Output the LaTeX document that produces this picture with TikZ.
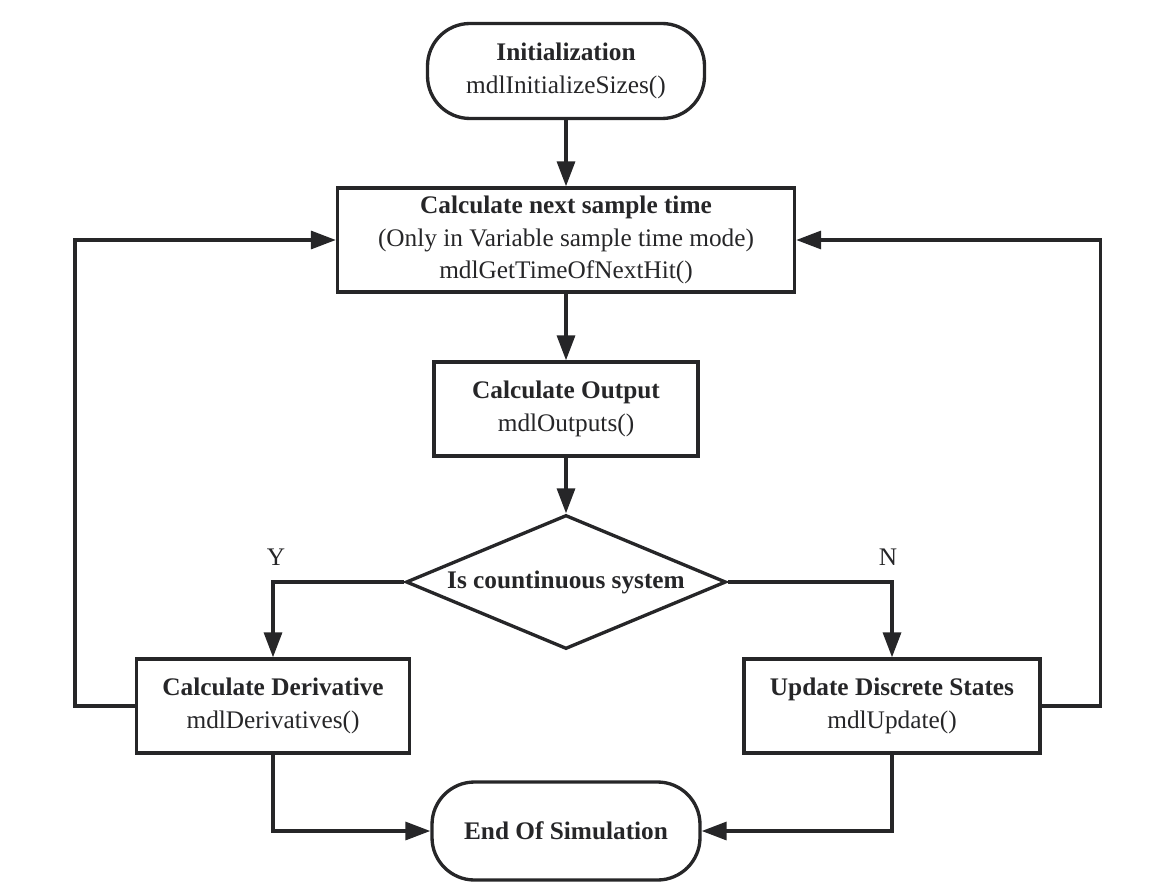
\documentclass[tikz,border=0pt]{standalone}
\usepackage{fontspec}
\setmainfont{Liberation Serif}
\usetikzlibrary{arrows.meta,positioning,shapes.geometric}
\definecolor{ink}{RGB}{38,38,40}
\tikzset{>={Triangle[length=0.5cm,width=0.36cm]}}
\tikzset{
  box/.style={draw=ink,line width=1.9pt,text=ink,align=center,font=\fontsize{14.4}{18.5}\selectfont},
  term/.style={box,rounded corners=0.85cm,minimum height=1.9cm},
  proc/.style={box,minimum height=1.88cm},
  decide/.style={box,diamond,aspect=2.4,inner sep=0pt,minimum width=6.4cm,minimum height=2.68cm},
  flow/.style={->,draw=ink,line width=1.9pt},
  lbl/.style={text=ink,font=\fontsize{14.4}{18.5}\selectfont},
}

\begin{document}
\begin{tikzpicture}[node distance=3.38cm]
\useasboundingbox (0,0) rectangle (23.48,17.8);
\node[term,minimum width=5.54cm] (init) at (11.32,16.38) {\textbf{Initialization}\\mdlInitializeSizes()};
\node[proc,minimum width=9.14cm,minimum height=2.08cm,below of=init] (next) {\textbf{Calculate next sample time}\\(Only in Variable sample time mode)\\mdlGetTimeOfNextHit()};
\node[proc,minimum width=5.28cm,below of=next] (out) {\textbf{Calculate Output}\\mdlOutputs()};
\node[decide,below of=out,yshift=-0.08cm] (dia) {\textbf{Is countinuous system}};
\node[proc,minimum width=5.46cm] (deriv) at (5.46,3.68) {\textbf{Calculate Derivative}\\mdlDerivatives()};
\node[proc,minimum width=5.92cm] (upd) at (17.84,3.68) {\textbf{Update Discrete States}\\mdlUpdate()};
\node[term,minimum width=5.36cm,minimum height=1.96cm] (end) at (11.32,1.18) {\textbf{End Of Simulation}};
% main column
\draw[flow] (init) -- (next);
\draw[flow] (next) -- (out);
\draw[flow] (out) -- (dia);
% branches
\draw[flow] (dia.west) -| node[lbl,pos=0.5,above=0.18cm,xshift=0.06cm] (y) {Y} (deriv);
\draw[flow] (dia.east) -| node[lbl,pos=0.5,above=0.18cm,xshift=-0.08cm] (n) {N} (upd);
% loops back
\draw[flow] (deriv.west) -- ++(-1.2,0) |- (next.west);
\draw[flow] (upd.east) -- ++(1.18,0) |- (next.east);
\draw[flow] (deriv) |- (end);
\draw[flow] (upd) |- (end);
\end{tikzpicture}
\end{document}
